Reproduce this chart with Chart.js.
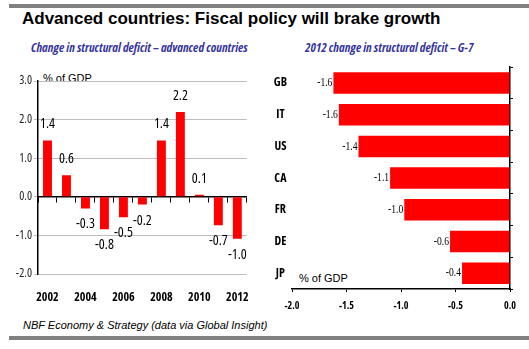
<!DOCTYPE html>
<html lang="en">
<head>
    <meta charset="UTF-8">
    <title>Advanced countries: Fiscal policy will brake growth</title>
    <script src="https://cdn.jsdelivr.net/npm/chart.js"></script>
    <style>
        body { margin: 0; width: 529px; height: 349px; position: relative; background: #fff; font-family: 'Liberation Sans', Arial, sans-serif; overflow: hidden; }
        .band { position: absolute; background: #808080; }
        .txt { position: absolute; white-space: nowrap; }
        #title { left: 22px; top: 9px; font-size: 17px; font-weight: bold; color: #000; }
        .sub { top: 39px; font-family: 'Open Sans', sans-serif; font-stretch: condensed; font-size: 12.5px; font-weight: bold; font-style: italic; color: #33339a; }
        .unit { font-size: 11px; color: #000; }
        #foot { left: 23px; top: 319px; font-size: 11px; font-style: italic; color: #000; }
        canvas { position: absolute; }
    </style>
</head>
<body>
    <div class="band" style="left:9px; top:4px; width:520px; height:4px;"></div>
    <div class="band" style="left:9px; top:336px; width:520px; height:4px;"></div>
    <div class="txt" id="title">Advanced countries: Fiscal policy will brake growth</div>
    <div class="txt sub" style="left:31px;">Change in structural deficit – advanced countries</div>
    <div class="txt sub" style="left:305px;">2012 change in structural deficit – G-7</div>
    <div class="txt unit" style="left:43px; top:72px;">% of GDP</div>
    <div class="txt unit" style="left:299px; top:272px;">% of GDP</div>
    <div class="txt" id="foot">NBF Economy &amp; Strategy (data via Global Insight)</div>

    <canvas id="left" style="left:0; top:55px;"></canvas>
    <canvas id="right" style="left:265px; top:55px;"></canvas>

    <script>
        // données
        const years = ['2002', '2003', '2004', '2005', '2006', '2007', '2008', '2009', '2010', '2011', '2012'];
        const deficitChange = [1.46, 0.56, -0.3, -0.84, -0.53, -0.2, 1.46, 2.2, 0.05, -0.74, -1.09];
        const deficitLabels = ['1.4', '0.6', '-0.3', '-0.8', '-0.5', '-0.2', '1.4', '2.2', '0.1', '-0.7', '-1.0'];
        const yTicks = [-2, -1, 0, 1, 2, 3];

        const countries = ['GB', 'IT', 'US', 'CA', 'FR', 'DE', 'JP'];
        const g7Change = [-1.62, -1.57, -1.39, -1.10, -0.97, -0.55, -0.44];
        const g7Labels = ['-1.6', '-1.6', '-1.4', '-1.1', '-1.0', '-0.6', '-0.4'];
        const xTicksG7 = [-2, -1.5, -1, -0.5, 0];

        // police étroite : Open Sans en largeur condensée
        const cond = "'Open Sans', sans-serif";
        Chart.defaults.animation = false;
        Chart.defaults.responsive = false;
        Chart.defaults.plugins.legend.display = false;
        Chart.defaults.plugins.tooltip.enabled = false;
        Chart.defaults.color = '#111';

        // étiquettes de valeur au bout des barres
        const valueLabels = {
            id: 'valueLabels',
            afterDatasetsDraw(chart, args, opts) {
                const ctx = chart.ctx;
                const meta = chart.getDatasetMeta(0);
                ctx.save();
                ctx.fillStyle = '#000';
                ctx.font = opts.font;
                ctx.textBaseline = 'middle';
                meta.data.forEach((bar, i) => {
                    const v = chart.data.datasets[0].data[i];
                    const txt = opts.texts[i];
                    if (chart.options.indexAxis === 'y') {
                        // texte serif resserré horizontalement
                        ctx.save();
                        ctx.translate(bar.x - 1, bar.y);
                        ctx.scale(0.8, 1);
                        ctx.textAlign = 'right';
                        ctx.fillText(txt, 0, 0);
                        ctx.restore();
                    } else {
                        ctx.textAlign = 'center';
                        ctx.fillText(txt, bar.x, v >= 0 ? bar.y - 16 : bar.y + 16);
                    }
                });
                ctx.restore();
            }
        };

        const leftCanvas = document.getElementById('left');
        leftCanvas.width = 265; leftCanvas.height = 260;
        new Chart(leftCanvas, {
            type: 'bar',
            data: {
                labels: years,
                datasets: [{ data: deficitChange, backgroundColor: '#ff0000', barPercentage: 0.47, categoryPercentage: 1 }]
            },
            options: {
                layout: { padding: { top: 26, right: 9, left: 0, bottom: 0 } },
                scales: {
                    x: {
                        position: 'bottom',
                        grid: { display: false, drawTicks: false },
                        border: { display: false },
                        ticks: {
                            autoSkip: false, maxRotation: 0, padding: 16,
                            font: { family: cond, size: 12, weight: 'condensed bold' },
                            color: '#000',
                            callback: (v, i) => i % 2 === 0 ? years[i] : ''
                        },
                        afterFit: s => { s.height = 41; }
                    },
                    x0: {
                        type: 'category',
                        labels: years,
                        position: { y: 0 },
                        offset: true,
                        grid: { offset: true, drawOnChartArea: false, tickLength: 5, color: '#000' },
                        border: { display: true, color: '#000', width: 1.5 },
                        ticks: { display: false },
                        afterFit: s => { s.height = 0; }
                    },
                    y: {
                        min: -2, max: 3,
                        afterBuildTicks: s => { s.ticks = yTicks.map(v => ({ value: v })); },
                        grid: { color: '#bdbdbd', tickLength: 4 },
                        border: { display: true, color: '#000', width: 1.5 },
                        ticks: {
                            padding: 2,
                            font: { family: cond, size: 12, weight: 'condensed' },
                            color: '#222',
                            callback: v => v.toFixed(1)
                        },
                        afterFit: s => { s.width = 38; }
                    }
                },
                plugins: {
                    valueLabels: { texts: deficitLabels, font: 'condensed 14px ' + cond }
                }
            },
            plugins: [valueLabels]
        });

        const rightCanvas = document.getElementById('right');
        rightCanvas.width = 264; rightCanvas.height = 260;
        new Chart(rightCanvas, {
            type: 'bar',
            data: {
                labels: countries,
                datasets: [{ data: g7Change, backgroundColor: '#ff0000', barPercentage: 0.68, categoryPercentage: 1 }]
            },
            options: {
                indexAxis: 'y',
                layout: { padding: { top: 10, right: 19, left: 0, bottom: 0 } },
                scales: {
                    x: {
                        min: -2, max: 0,
                        afterBuildTicks: s => { s.ticks = xTicksG7.map(v => ({ value: v })); },
                        grid: { drawOnChartArea: false, tickLength: 3, color: '#000' },
                        border: { display: true, color: '#000', width: 1.5 },
                        ticks: {
                            padding: 8,
                            font: { family: cond, size: 10, weight: 'condensed bold' },
                            color: '#000',
                            callback: v => v.toFixed(1)
                        },
                        afterFit: s => { s.height = 26; }
                    },
                    y: {
                        position: 'left',
                        grid: { display: false, drawTicks: false },
                        border: { display: false },
                        ticks: {
                            padding: 5,
                            crossAlign: 'center',
                            font: { family: cond, size: 12, weight: 'condensed bold' },
                            color: '#000'
                        },
                        afterFit: s => { s.width = 27; }
                    },
                    y0: {
                        type: 'category',
                        labels: countries,
                        position: 'right',
                        offset: true,
                        grid: { offset: true, drawOnChartArea: false, tickLength: 3, color: '#000' },
                        border: { display: true, color: '#000', width: 1.5 },
                        ticks: { display: false },
                        afterFit: s => { s.width = 0; }
                    }
                },
                plugins: {
                    valueLabels: { texts: g7Labels, font: '12px "Liberation Serif", serif' }
                }
            },
            plugins: [valueLabels]
        });
    </script>
</body>
</html>
